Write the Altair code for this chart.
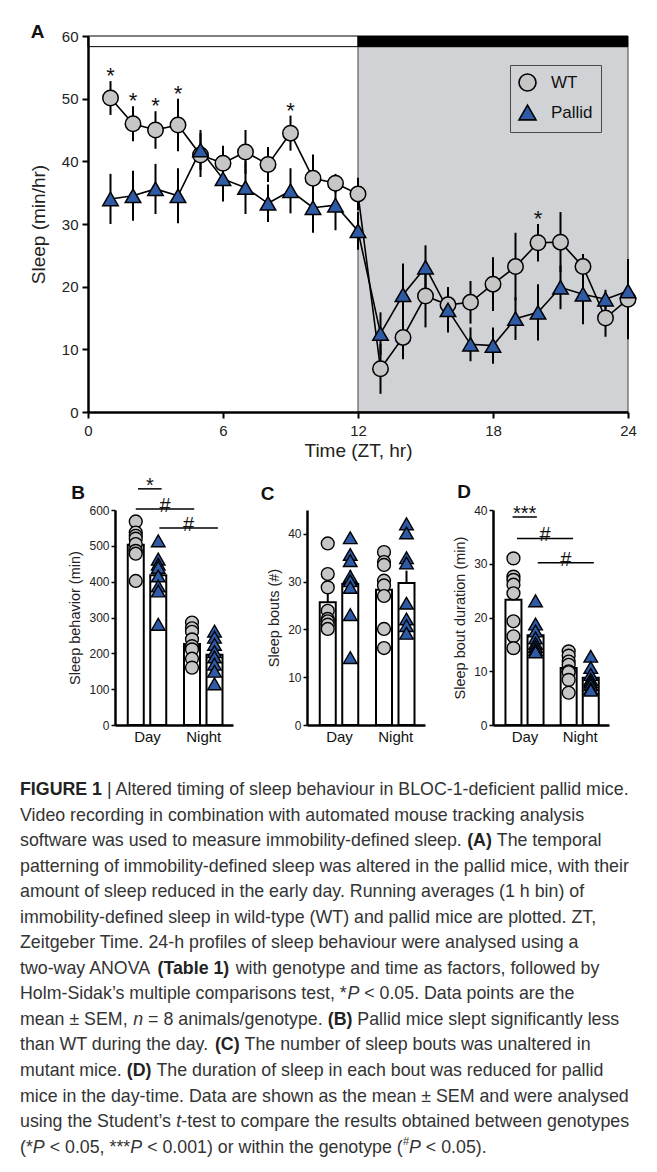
import altair as alt
import pandas as pd

FONT = "Liberation Sans"
WT_FILL = "#c6c6c6"
PA_FILL = "#2f5aa6"
BG_GRAY = "#d0d2d5"

# ---------------- Panel A data ----------------
hours = list(range(1, 25))
wt_mean = [50.1, 46.0, 45.0, 45.8, 41.0, 39.7, 41.5, 39.5, 44.5, 37.3, 36.5, 34.8,
           6.9, 11.9, 18.5, 17.1, 17.5, 20.4, 23.2, 27.0, 27.1, 23.2, 15.0, 18.0]
wt_sem = [2.7, 2.8, 3.0, 4.2, 3.5, 2.8, 3.5, 2.8, 2.8, 3.8, 1.5, 2.6,
          4.0, 3.5, 5.0, 2.8, 3.4, 4.3, 5.4, 3.0, 4.8, 2.0, 3.0, 6.4]
pa_mean = [34.0, 34.5, 35.6, 34.5, 41.8, 37.2, 35.8, 33.3, 35.3, 32.6, 33.0, 28.9,
           12.5, 18.7, 23.1, 16.3, 10.8, 10.6, 14.9, 15.9, 19.9, 18.8, 18.0, 19.3]
pa_sem = [4.0, 4.0, 4.0, 4.4, 3.2, 3.6, 4.2, 3.0, 3.6, 4.0, 4.0, 3.0,
          3.4, 5.0, 3.5, 3.6, 2.7, 2.9, 3.4, 4.5, 3.5, 4.8, 1.5, 4.8]
star_hours = [1, 2, 3, 4, 9, 20]
phase_names = ["light", "dark"]
phase_start = [0, 12]
phase_end = [12, 24]
dark_start, dark_end = 12, 24

# ---------------- Panels B-D data ----------------
genotypes = ["WT", "Pallid", "WT", "Pallid"]
bar_pos = [1, 2, 3.5, 4.5]          # Day-WT, Day-Pallid, Night-WT, Night-Pallid

beh_points = [[568, 537, 528, 520, 505, 486, 478, 402],
              [514, 463, 449, 440, 416, 388, 374, 281],
              [286, 270, 260, 239, 220, 211, 185, 160],
              [262, 245, 225, 205, 190, 170, 150, 115]]
beh_mean = [503, 418, 226, 196]
beh_sem = [18, 26, 15, 18]

bouts_points = [[38.0, 31.6, 28.8, 23.9, 22.2, 21.7, 21.0, 20.1],
                [39.2, 35.7, 34.4, 31.1, 30.2, 28.8, 23.1, 14.1],
                [36.2, 34.1, 33.5, 30.2, 29.2, 27.0, 20.1, 16.1],
                [42.1, 40.2, 35.0, 33.9, 25.5, 22.2, 20.8, 19.2]]
bouts_mean = [25.7, 29.5, 28.3, 29.7]
bouts_sem = [1.9, 2.9, 2.3, 2.6]

dur_points = [[31.0, 27.6, 27.0, 26.1, 24.5, 19.3, 16.5, 14.3],
              [23.1, 18.8, 17.5, 16.2, 15.2, 14.6, 14.0, 13.6],
              [13.7, 12.9, 11.8, 11.2, 10.0, 9.8, 8.4, 6.0],
              [12.8, 10.7, 9.4, 8.5, 8.0, 7.5, 6.8, 6.5]]
dur_mean = [23.3, 16.7, 10.6, 8.8]
dur_sem = [2.1, 1.1, 0.9, 0.8]

# significance annotations: (x-from, x-to, y, label)
beh_ann = [(1.1, 2.15, 659, "*"), (1.0, 3.6, 603, "#"), (2.05, 4.65, 550, "#")]
dur_ann = [(0.96, 2.06, 38.7, "***"), (1.16, 3.70, 34.7, "#"), (2.10, 4.64, 30.2, "#")]

# ---------------- Caption ----------------
CAPTION = [
    [("FIGURE 1 ", "b"), ("| Altered timing of sleep behaviour in BLOC-1-deficient pallid mice.", "r")],
    [("Video recording in combination with automated mouse tracking analysis", "r")],
    [("software was used to measure immobility-defined sleep. ", "r"), ("(A)", "b"), (" The temporal", "r")],
    [("patterning of immobility-defined sleep was altered in the pallid mice, with their", "r")],
    [("amount of sleep reduced in the early day. Running averages (1 h bin) of", "r")],
    [("immobility-defined sleep in wild-type (WT) and pallid mice are plotted. ZT,", "r")],
    [("Zeitgeber Time. 24-h profiles of sleep behaviour were analysed using a", "r")],
    [("two-way ANOVA ", "r"), ("(Table 1)", "b"), (" with genotype and time as factors, followed by", "r")],
    [("Holm-Sidak\u2019s multiple comparisons test, *", "r"), ("P", "i"), (" < 0.05. Data points are the", "r")],
    [("mean \u00b1 SEM, ", "r"), ("n", "i"), (" = 8 animals/genotype. ", "r"), ("(B)", "b"),
     (" Pallid mice slept significantly less", "r")],
    [("than WT during the day. ", "r"), ("(C)", "b"), (" The number of sleep bouts was unaltered in", "r")],
    [("mutant mice. ", "r"), ("(D)", "b"), (" The duration of sleep in each bout was reduced for pallid", "r")],
    [("mice in the day-time. Data are shown as the mean \u00b1 SEM and were analysed", "r")],
    [("using the Student\u2019s ", "r"), ("t", "i"), ("-test to compare the results obtained between genotypes", "r")],
    [("(*", "r"), ("P", "i"), (" < 0.05, ***", "r"), ("P", "i"), (" < 0.001) or within the genotype (", "r"),
     ("#", "s"), ("P", "i"), (" < 0.05).", "r")],
]

# Arial / Liberation Sans advance widths (1/1000 em)
REG_W = {' ': 278, '!': 278, '#': 556, '(': 333, ')': 333, '*': 389, '+': 584, ',': 278, '-': 333,
         '.': 278, '/': 278, ':': 278, ';': 278, '<': 584, '=': 584, '>': 584, '\u00b1': 584,
         '\u2019': 222, "'": 191, '|': 260}
for d in "0123456789":
    REG_W[d] = 556
REG_W.update(zip("ABCDEFGHIJKLMNOPQRSTUVWXYZ",
                 [667, 667, 722, 722, 667, 611, 778, 722, 278, 500, 667, 556, 833, 722, 778, 667,
                  778, 722, 667, 611, 722, 667, 944, 667, 667, 611]))
REG_W.update(zip("abcdefghijklmnopqrstuvwxyz",
                 [556, 556, 500, 556, 556, 278, 556, 556, 222, 222, 500, 222, 833, 556, 556, 556,
                  556, 333, 500, 278, 556, 500, 722, 500, 500, 500]))
BOLD_W = dict(REG_W)
BOLD_W.update(zip("abcdefghijklmnopqrstuvwxyz",
                  [556, 611, 556, 611, 556, 333, 611, 611, 278, 278, 556, 278, 889, 611, 611, 611,
                   611, 389, 556, 333, 611, 556, 778, 556, 556, 500]))
BOLD_W.update(zip("ABCDEFGHIJKLMNOPQRSTUVWXYZ",
                  [722, 722, 722, 722, 667, 611, 778, 722, 278, 556, 722, 611, 833, 722, 778, 667,
                   778, 722, 667, 611, 722, 667, 944, 667, 667, 611]))
BOLD_W['|'] = 280

CAP_FS = 17.8
SUP_FS = 11
LINE_H = 25.5


def seg_width(txt, style):
    table = BOLD_W if style == "b" else REG_W
    fs = SUP_FS if style == "s" else CAP_FS
    return sum(table.get(c, 556) for c in txt) / 1000.0 * fs


cap_rows = []
for li, segs in enumerate(CAPTION):
    x = 0.0
    for txt, sty in segs:
        lead = len(txt) - len(txt.lstrip(" "))
        fs = SUP_FS if sty == "s" else CAP_FS
        cap_rows.append({"line": li, "x": x + lead * 0.278 * fs, "t": txt.strip(" "), "style": sty})
        x += seg_width(txt, sty)
cap_df = pd.DataFrame(cap_rows)

# ---------------- Panel A ----------------
a_df = pd.DataFrame({
    "hour": hours * 2,
    "geno": ["WT"] * 24 + ["Pallid"] * 24,
    "mean": wt_mean + pa_mean,
    "sem": wt_sem + pa_sem,
})
a_df["lo"] = a_df["mean"] - a_df["sem"]
a_df["hi"] = a_df["mean"] + a_df["sem"]
star_df = pd.DataFrame({"hour": star_hours,
                        "y": [wt_mean[h - 1] + wt_sem[h - 1] for h in star_hours],
                        "t": ["*"] * len(star_hours)})
phase_df = pd.DataFrame({"phase": phase_names, "x": phase_start, "x2": phase_end,
                         "y": [58.3, 58.3], "y2": [60, 60]})
bg_df = pd.DataFrame({"x": [dark_start], "x2": [dark_end], "y": [0], "y2": [58.3]})

A_W, A_H = 540, 376
ax_sc = alt.Scale(domain=[0, 24], nice=False, zero=False)
ay_sc = alt.Scale(domain=[0, 60], nice=False)
A_XAX = alt.Axis(values=[0, 6, 12, 18, 24], title="Time (ZT, hr)", grid=False, tickSize=6, tickWidth=2,
                 tickColor="black", domainColor="black", domainWidth=2.5, labelFontSize=15,
                 titleFontSize=19, titleFontWeight="normal", labelColor="#222", titleColor="#222",
                 labelPadding=5, titlePadding=3, labelFlush=False, zindex=1)
A_YAX = alt.Axis(values=[0, 10, 20, 30, 40, 50, 60], title="Sleep (min/hr)", grid=False, tickSize=6,
                 tickWidth=2, tickColor="black", domainColor="black", domainWidth=2.5, labelFontSize=15,
                 titleFontSize=19, titleFontWeight="normal", labelColor="#222", titleColor="#222",
                 labelPadding=4, titlePadding=13, labelFlush=False, zindex=1)


def AX(f):
    return alt.X(f, scale=ax_sc, axis=A_XAX)


def AY(f):
    return alt.Y(f, scale=ay_sc, axis=A_YAX)


bg = alt.Chart(bg_df).mark_rect(fill=BG_GRAY, stroke="#444", strokeWidth=1).encode(
    x=AX("x:Q"), x2="x2:Q", y=AY("y:Q"), y2="y2:Q")
light = alt.Chart(phase_df).transform_filter("datum.phase == 'light'").mark_rect(
    fill="white", stroke="black", strokeWidth=1).encode(x=AX("x:Q"), x2="x2:Q", y=AY("y:Q"), y2="y2:Q")
dark = alt.Chart(phase_df).transform_filter("datum.phase == 'dark'").mark_rect(
    fill="black", stroke="black", strokeWidth=1).encode(x=AX("x:Q"), x2="x2:Q", y=AY("y:Q"), y2="y2:Q")
errs = alt.Chart(a_df).mark_rule(color="black", strokeWidth=2).encode(
    x=AX("hour:Q"), y=AY("lo:Q"), y2="hi:Q")
lines = alt.Chart(a_df).mark_line(color="black", strokeWidth=1.6).encode(
    x=AX("hour:Q"), y=AY("mean:Q"), detail="geno:N")
legend_a = alt.Legend(title=None, orient="none", legendX=422, legendY=29, padding=8,
                      fillColor=BG_GRAY, strokeColor="#4a4a4a", labelFontSize=17, labelColor="#111",
                      labelFont=FONT, symbolSize=290, symbolStrokeColor="black", symbolStrokeWidth=1.6,
                      symbolOpacity=1, rowPadding=6, labelOffset=14, cornerRadius=0)
geno_dom = ["WT", "Pallid"]
pts = alt.Chart(a_df).mark_point(filled=True, opacity=1, strokeWidth=1.5, size=240).encode(
    x=AX("hour:Q"), y=AY("mean:Q"),
    shape=alt.Shape("geno:N", scale=alt.Scale(domain=geno_dom, range=["circle", "triangle-up"]),
                    legend=legend_a),
    fill=alt.Fill("geno:N", scale=alt.Scale(domain=geno_dom, range=[WT_FILL, PA_FILL]),
                  legend=legend_a),
    stroke=alt.Stroke("geno:N", scale=alt.Scale(domain=geno_dom, range=["black", "black"]),
                      legend=legend_a),
)
stars = alt.Chart(star_df).mark_text(fontSize=22, baseline="alphabetic", dy=2, color="#111").encode(
    x=AX("hour:Q"), y=AY("y:Q"), text="t:N")
a_letter = alt.Chart(pd.DataFrame({"x": [-2.24], "y": [60.6], "t": ["A"]})).mark_text(
    fontSize=19, fontWeight="bold", baseline="middle", color="#111").encode(x=AX("x:Q"), y=AY("y:Q"), text="t:N")

chart_a = alt.layer(bg, light, dark, errs, lines, pts, stars, a_letter).properties(width=A_W, height=A_H)


# ---------------- Panels B-D ----------------
def bar_panel(letter, letter_xy, ytitle, ymax, yticks, width, means, sems, points, ann):
    bars = pd.DataFrame({"pos": bar_pos, "mean": means, "hi": [m + s for m, s in zip(means, sems)]})
    rows = []
    for p, g, vals in zip(bar_pos, genotypes, points):
        for v in vals:
            rows.append({"pos": p, "geno": g, "val": v})
    pdf = pd.DataFrame(rows)
    xs = alt.Scale(domain=[0.3, 5.1], nice=False, zero=False)
    ys = alt.Scale(domain=[0, ymax], nice=False)
    xax = alt.Axis(values=[1.5, 4.0], labelExpr="datum.value < 3 ? 'Day' : 'Night'", ticks=False,
                   title=None, grid=False, domainWidth=2.5, domainColor="black", labelFontSize=15,
                   labelColor="#111", labelPadding=4, labelFlush=False, zindex=1)
    yax = alt.Axis(values=yticks, title=ytitle, grid=False, tickSize=4, tickWidth=1.5, tickColor="black",
                   domainWidth=2.5, domainColor="black", labelFontSize=12, labelColor="#222",
                   titleFontSize=14.5, titleFontWeight="normal", titleColor="#222", labelPadding=2,
                   titlePadding=6, labelFlush=False, zindex=1)

    def X(f):
        return alt.X(f, scale=xs, axis=xax)

    def Y(f):
        return alt.Y(f, scale=ys, axis=yax)

    bar = alt.Chart(bars).mark_bar(fill="white", stroke="black", strokeWidth=2, size=16).encode(
        x=X("pos:Q"), y=Y("mean:Q"))
    err = alt.Chart(bars).mark_rule(color="black", strokeWidth=2).encode(x=X("pos:Q"), y=Y("mean:Q"), y2="hi:Q")
    wt = alt.Chart(pdf).transform_filter("datum.geno == 'WT'").mark_point(
        shape="circle", filled=True, fill=WT_FILL, stroke="black", strokeWidth=1.4, size=165, opacity=1
    ).encode(x=X("pos:Q"), y=Y("val:Q"))
    pa = alt.Chart(pdf).transform_filter("datum.geno == 'Pallid'").mark_point(
        shape="triangle-up", filled=True, fill=PA_FILL, stroke="black", strokeWidth=1.4, size=185, opacity=1
    ).encode(x=X("pos:Q"), y=Y("val:Q"))
    layers = [bar, err, wt, pa]
    if ann:
        adf = pd.DataFrame(ann, columns=["x1", "x2", "y", "label"])
        adf["xm"] = (adf["x1"] + adf["x2"]) / 2
        layers.append(alt.Chart(adf).mark_rule(color="black", strokeWidth=1.5).encode(
            x=X("x1:Q"), x2="x2:Q", y=Y("y:Q")))
        layers.append(alt.Chart(adf).mark_text(fontSize=20, baseline="alphabetic", dy=3, color="#111").encode(
            x=X("xm:Q"), y=Y("y:Q"), text="label:N"))
    layers.append(alt.Chart(pd.DataFrame({"x": [letter_xy[0]], "y": [letter_xy[1]], "t": [letter]})).mark_text(
        fontSize=19, fontWeight="bold", baseline="middle", color="#111").encode(
        x=X("x:Q"), y=Y("y:Q"), text="t:N"))
    return alt.layer(*layers).properties(width=width, height=215)


chart_b = bar_panel("B", (-1.56, 647), "Sleep behavior (min)", 600, [0, 100, 200, 300, 400, 500, 600], 118,
                    beh_mean, beh_sem, beh_points, beh_ann)
chart_c = bar_panel("C", (-1.67, 48.4), "Sleep bouts (#)", 45, [0, 10, 20, 30, 40], 118,
                    bouts_mean, bouts_sem, bouts_points, None)
chart_d = bar_panel("D", (-1.24, 43.4), "Sleep bout duration (min)", 40, [0, 10, 20, 30, 40], 116,
                    dur_mean, dur_sem, dur_points, dur_ann)

# ---------------- Caption chart ----------------
CAP_TOP = 1.22
cx = alt.X("x:Q", scale=alt.Scale(domain=[0, 617], nice=False, zero=False), axis=None)
cy = alt.Y("line:Q", scale=alt.Scale(domain=[-CAP_TOP, 14.8], nice=False, zero=False, reverse=True), axis=None)
CAP_COLOR = "#333333"
cap_base = alt.Chart(cap_df)
cap_reg = cap_base.transform_filter("datum.style == 'r'").mark_text(
    align="left", baseline="middle", fontSize=CAP_FS, color=CAP_COLOR).encode(x=cx, y=cy, text="t:N")
cap_bold = cap_base.transform_filter("datum.style == 'b'").mark_text(
    align="left", baseline="middle", fontSize=CAP_FS, fontWeight="bold", color="#222").encode(x=cx, y=cy, text="t:N")
cap_it = cap_base.transform_filter("datum.style == 'i'").mark_text(
    align="left", baseline="middle", fontSize=CAP_FS, fontStyle="italic", color=CAP_COLOR).encode(x=cx, y=cy, text="t:N")
cap_sup = cap_base.transform_filter("datum.style == 's'").mark_text(
    align="left", baseline="middle", fontSize=SUP_FS, dy=-6, color=CAP_COLOR).encode(x=cx, y=cy, text="t:N")
caption = alt.layer(cap_reg, cap_bold, cap_it, cap_sup).properties(
    width=617, height=round((14.8 + CAP_TOP) * LINE_H))


# ---------------- Layout ----------------
def spacer(w):
    return alt.Chart(pd.DataFrame({"v": [0]})).mark_rect(opacity=0).encode(
        x=alt.value(0), x2=alt.value(w), y=alt.value(0), y2=alt.value(1)).properties(width=w, height=1)


row_a = alt.hconcat(spacer(1), chart_a, spacing=8).resolve_legend(
    shape="independent", fill="independent", stroke="independent")
row_b = alt.hconcat(spacer(20), chart_b, chart_c, chart_d, spacing=27)

chart = alt.vconcat(row_a, row_b, caption, spacing=15).resolve_legend(
    shape="independent", fill="independent", stroke="independent"
).properties(
    padding={"left": 20, "top": 23, "right": 10, "bottom": 10}
).configure(font=FONT).configure_view(stroke=None)

chart.save("out.html", embed_options={"renderer": "svg", "actions": False})
